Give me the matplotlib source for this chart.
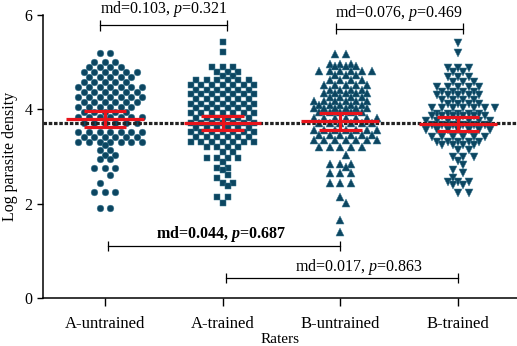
"""Log parasite density by rater group: swarm of readings with mean and 95% CI."""

import matplotlib.pyplot as plt
import numpy as np

plt.rcParams["font.family"] = ["Liberation Serif", "DejaVu Serif"]
plt.rcParams["mathtext.fontset"] = "custom"
plt.rcParams["mathtext.rm"] = "Liberation Serif"
plt.rcParams["mathtext.it"] = "Liberation Serif:italic"
plt.rcParams["mathtext.bf"] = "Liberation Serif:bold"
plt.rcParams["mathtext.bfit"] = "Liberation Serif:italic:bold"

GROUPS = ["A-untrained", "A-trained", "B-untrained", "B-trained"]
MARKERS = ["o", "s", "^", "v"]

# readings grouped into rows of the swarm: value level and number of points in the row
a_untrained_levels = [5.20, 5.01, 4.90, 4.80, 4.69, 4.58, 4.48, 4.37, 4.26, 4.16, 4.05, 3.95, 3.83,
                      3.70, 3.52, 3.42, 3.31, 3.24, 3.14, 3.03, 2.94, 2.75, 2.61, 2.43, 2.25, 1.90]
a_untrained_counts = [2, 3, 4, 6, 5, 5, 7, 6, 7, 6, 6, 5, 7, 6, 7, 6, 7, 1, 2, 2, 2, 3, 1, 1, 3, 2]

a_trained_levels = [5.42, 5.21, 4.90, 4.80, 4.71, 4.62, 4.52, 4.42, 4.32, 4.22, 4.12, 4.02, 3.92,
                    3.81, 3.71, 3.61, 3.52, 3.42, 3.31, 3.21, 3.10, 2.97, 2.88, 2.76, 2.71, 2.61,
                    2.55, 2.43, 2.38, 2.15, 2.02]
a_trained_counts = [1, 1, 3, 3, 2, 6, 7, 6, 7, 6, 7, 6, 7, 6, 7, 6, 7, 6, 7, 4, 2, 4, 1, 2, 1, 1,
                    1, 2, 1, 2, 1]

b_untrained_levels = [5.18, 4.97, 4.92, 4.82, 4.72, 4.62, 4.51, 4.42, 4.34, 4.26, 4.18, 4.09, 4.02,
                      3.95, 3.82, 3.70, 3.56, 3.45, 3.35, 3.21, 3.03, 2.85, 2.78, 2.64, 2.43, 2.15,
                      2.01, 1.65, 1.40]
b_untrained_counts = [2, 3, 3, 6, 3, 4, 5, 4, 5, 4, 6, 5, 6, 5, 7, 6, 7, 6, 7, 5, 1, 3, 1, 3, 3, 1,
                      1, 1, 1]

b_trained_levels = [5.40, 5.20, 4.87, 4.80, 4.69, 4.58, 4.48, 4.37, 4.30, 4.19, 4.12, 4.02, 3.91,
                    3.85, 3.76, 3.66, 3.56, 3.42, 3.31, 3.24, 3.14, 2.99, 2.90, 2.82, 2.71, 2.64,
                    2.54, 2.46, 2.39, 2.22]
b_trained_counts = [1, 1, 3, 2, 3, 3, 5, 4, 5, 4, 4, 7, 5, 6, 7, 6, 7, 6, 5, 4, 2, 3, 1, 1, 1, 1,
                    1, 3, 2, 2]

MEANS = [3.79, 3.71, 3.75, 3.69]
CI_LOW = [3.62, 3.56, 3.57, 3.55]
CI_HIGH = [3.97, 3.86, 3.93, 3.83]
REF_LINE = 3.71

# (from group, to group, mean difference, p value, bracket height, text baseline, bold)
COMPARISONS = [
    (0, 1, "0.103", "0.321", 5.78, 6.05, False),
    (2, 3, "0.076", "0.469", 5.71, 5.96, False),
    (0, 2, "0.044", "0.687", 1.10, 1.28, True),
    (1, 3, "0.017", "0.863", 0.42, 0.57, False),
]

DOT = "#0c4661"
RED = "#e8141b"


def row_offsets(levels, counts, step, px_y):
    """Prism-like rows: each row centred, shifted half a step when it would stack on the row above."""
    out = []
    prev = None
    for v, n in zip(levels, counts):
        base = (np.arange(n) - (n - 1) / 2) * step
        best = base
        if prev is not None and (prev[0] - v) * px_y <= 9:
            score = min(np.min(np.abs(prev[1] - c)) for c in base)
            for s in (step / 2, -step / 2):
                cand = base + s
                sc = min(np.min(np.abs(prev[1] - c)) for c in cand)
                if sc > score + 1e-9:
                    best, score = cand, sc
        out.append(best)
        prev = (v, best)
    return out


def main():
    levels = [a_untrained_levels, a_trained_levels, b_untrained_levels, b_trained_levels]
    counts = [a_untrained_counts, a_trained_counts, b_untrained_counts, b_trained_counts]

    fig = plt.figure(figsize=(5.17, 3.46), dpi=100)
    ax = fig.add_axes([43 / 517, 48 / 346, 1 - 43 / 517, 283 / 346])

    sizes = {"o": 4.8, "s": 4.9, "^": 5.2, "v": 5.2}
    for i, (lv, ct) in enumerate(zip(levels, counts)):
        xs, ys = [], []
        for v, offs in zip(lv, row_offsets(lv, ct, 0.09, 47.2)):
            xs.extend(i + offs)
            ys.extend([v] * len(offs))
        ax.plot(xs, ys, MARKERS[i], ls="none", ms=sizes[MARKERS[i]],
                color=DOT, mec="#3c7892", mew=0.35, zorder=2, clip_on=False)

    ax.axhline(REF_LINE, color="#222222", lw=2.3, ls=(0, (1.1, 0.55)), zorder=3)

    for i in range(len(GROUPS)):
        ax.hlines(MEANS[i], i - 0.33, i + 0.33, color=RED, lw=2.3, zorder=4)
        ax.vlines(i, CI_LOW[i], CI_HIGH[i], color=RED, lw=2.3, zorder=4)
        ax.hlines([CI_LOW[i], CI_HIGH[i]], i - 0.18, i + 0.18, color=RED, lw=2.3, zorder=4)

    for a, b, md, p, y, ty, bold in COMPARISONS:
        x0, x1 = (a - 0.04, b + 0.04) if y > 3 else (a + 0.03, b)
        ax.plot([x0, x1], [y, y], color="black", lw=0.9, clip_on=False)
        ax.vlines([x0, x1], y - 0.11, y + 0.11, color="black", lw=0.9, clip_on=False)
        if bold:
            label = f"md={md}, " + r"$\mathbfit{p}$" + f"={p}"
            ax.text(0.99, ty, label, ha="center", va="baseline", fontsize=11.5,
                    fontweight="bold")
        else:
            label = f"md={md}, " + r"$\mathit{p}$" + f"={p}"
            xc = (x0 + x1) / 2 if y > 3 else 2.16
            ax.text(xc, ty, label, ha="center", va="baseline", fontsize=11.5, clip_on=False)

    ax.set_xlim(-0.525, 3.5)
    ax.set_ylim(0, 6)
    ax.set_xticks(range(len(GROUPS)))
    ax.set_xticklabels(GROUPS, fontsize=12)
    ax.set_yticks([0, 2, 4, 6])
    ax.tick_params(axis="y", labelsize=11.5, length=4, width=1)
    ax.tick_params(axis="x", length=6, width=1, pad=7)
    ax.set_xlabel("Raters", fontsize=11)
    ax.xaxis.set_label_coords(0.5, -0.122)
    ax.set_ylabel("Log parasite density", fontsize=11.5, labelpad=5)
    for side in ("top", "right"):
        ax.spines[side].set_visible(False)
    for side in ("left", "bottom"):
        ax.spines[side].set_linewidth(1.1)

    fig.savefig("out.png", dpi=100)


if __name__ == "__main__":
    main()
